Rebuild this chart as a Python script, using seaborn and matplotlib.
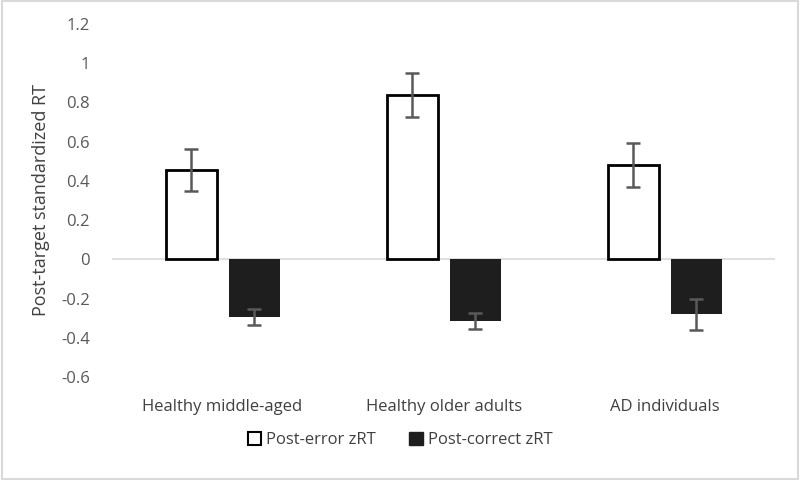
import pandas as pd
import matplotlib.pyplot as plt
import seaborn as sns
from matplotlib.patches import Patch, Rectangle

groups = ['Healthy middle-aged', 'Healthy older adults', 'AD individuals']
conditions = ['Post-error zRT', 'Post-correct zRT']
post_error = [0.455, 0.838, 0.482]
post_error_err = [0.107, 0.113, 0.113]
post_correct = [-0.296, -0.316, -0.279]
post_correct_err = [0.041, 0.041, 0.079]

colors = {'Post-error zRT': 'white', 'Post-correct zRT': '#1e1e1e'}


def build_frame():
    rows = []
    for g, v, e in zip(groups, post_error, post_error_err):
        rows.append({'Group': g, 'Condition': conditions[0], 'zRT': v, 'err': e})
    for g, v, e in zip(groups, post_correct, post_correct_err):
        rows.append({'Group': g, 'Condition': conditions[1], 'zRT': v, 'err': e})
    return pd.DataFrame(rows)


def plot_zrt(df):
    sns.set_style('white')
    plt.rcParams['font.family'] = ['Open Sans', 'DejaVu Sans']
    fig = plt.figure(figsize=(8, 4.8), dpi=100)
    ax = fig.add_axes([0.14, 0.2146, 0.829, 0.7354])

    sns.barplot(data=df, x='Group', y='zRT', hue='Condition', order=groups,
                hue_order=conditions, palette=colors, width=0.57, gap=0.19,
                errorbar=None, legend=False, ax=ax, linewidth=0)

    # edge for white bars + error bars
    for cond, container in zip(conditions, ax.containers):
        sub = df[df['Condition'] == cond].set_index('Group').loc[groups]
        xs = []
        for bar in container:
            xs.append(bar.get_x() + bar.get_width() / 2)
            if cond == conditions[0]:
                bar.set_edgecolor('black')
                bar.set_linewidth(2)
            else:
                bar.set_edgecolor('#1e1e1e')
        ax.errorbar(xs, sub['zRT'], yerr=sub['err'], fmt='none',
                    ecolor='#595959', elinewidth=1.8, capsize=5, capthick=1.8,
                    zorder=5)

    ax.axhline(0, color='#d9d9d9', lw=1.2, zorder=0.5)
    ax.set_ylim(-0.6, 1.2)
    ax.set_xlim(-0.5, 2.5)
    ax.set_yticks([-0.6, -0.4, -0.2, 0, 0.2, 0.4, 0.6, 0.8, 1, 1.2])
    ax.set_yticklabels(['-0.6', '-0.4', '-0.2', '0', '0.2', '0.4', '0.6',
                        '0.8', '1', '1.2'])
    ax.tick_params(axis='y', length=0, pad=16, labelsize=12, labelcolor='#595959')
    ax.tick_params(axis='x', length=0, pad=16, labelsize=12, labelcolor='#404040')
    for s in ax.spines.values():
        s.set_visible(False)
    ax.set_xlabel('')
    ax.set_ylabel('Post-target standardized RT', fontsize=13, color='#404040',
                  labelpad=8)

    handles = [Patch(facecolor='white', edgecolor='black', linewidth=1.5),
               Patch(facecolor='#1e1e1e', edgecolor='#1e1e1e')]
    fig.legend(handles, conditions, loc='center', bbox_to_anchor=(0.5, 0.083),
               ncol=2, frameon=False, fontsize=12, handlelength=0.8,
               handleheight=0.8, handletextpad=0.3, columnspacing=2.0,
               labelcolor='#404040')

    fig.patches.append(Rectangle((0.002, 0.003), 0.996, 0.994,
                                 transform=fig.transFigure, fill=False,
                                 edgecolor='#d9d9d9', lw=1.5))
    fig.savefig('out.png', dpi=100)


if __name__ == "__main__":
    df = build_frame()
    plot_zrt(df)
